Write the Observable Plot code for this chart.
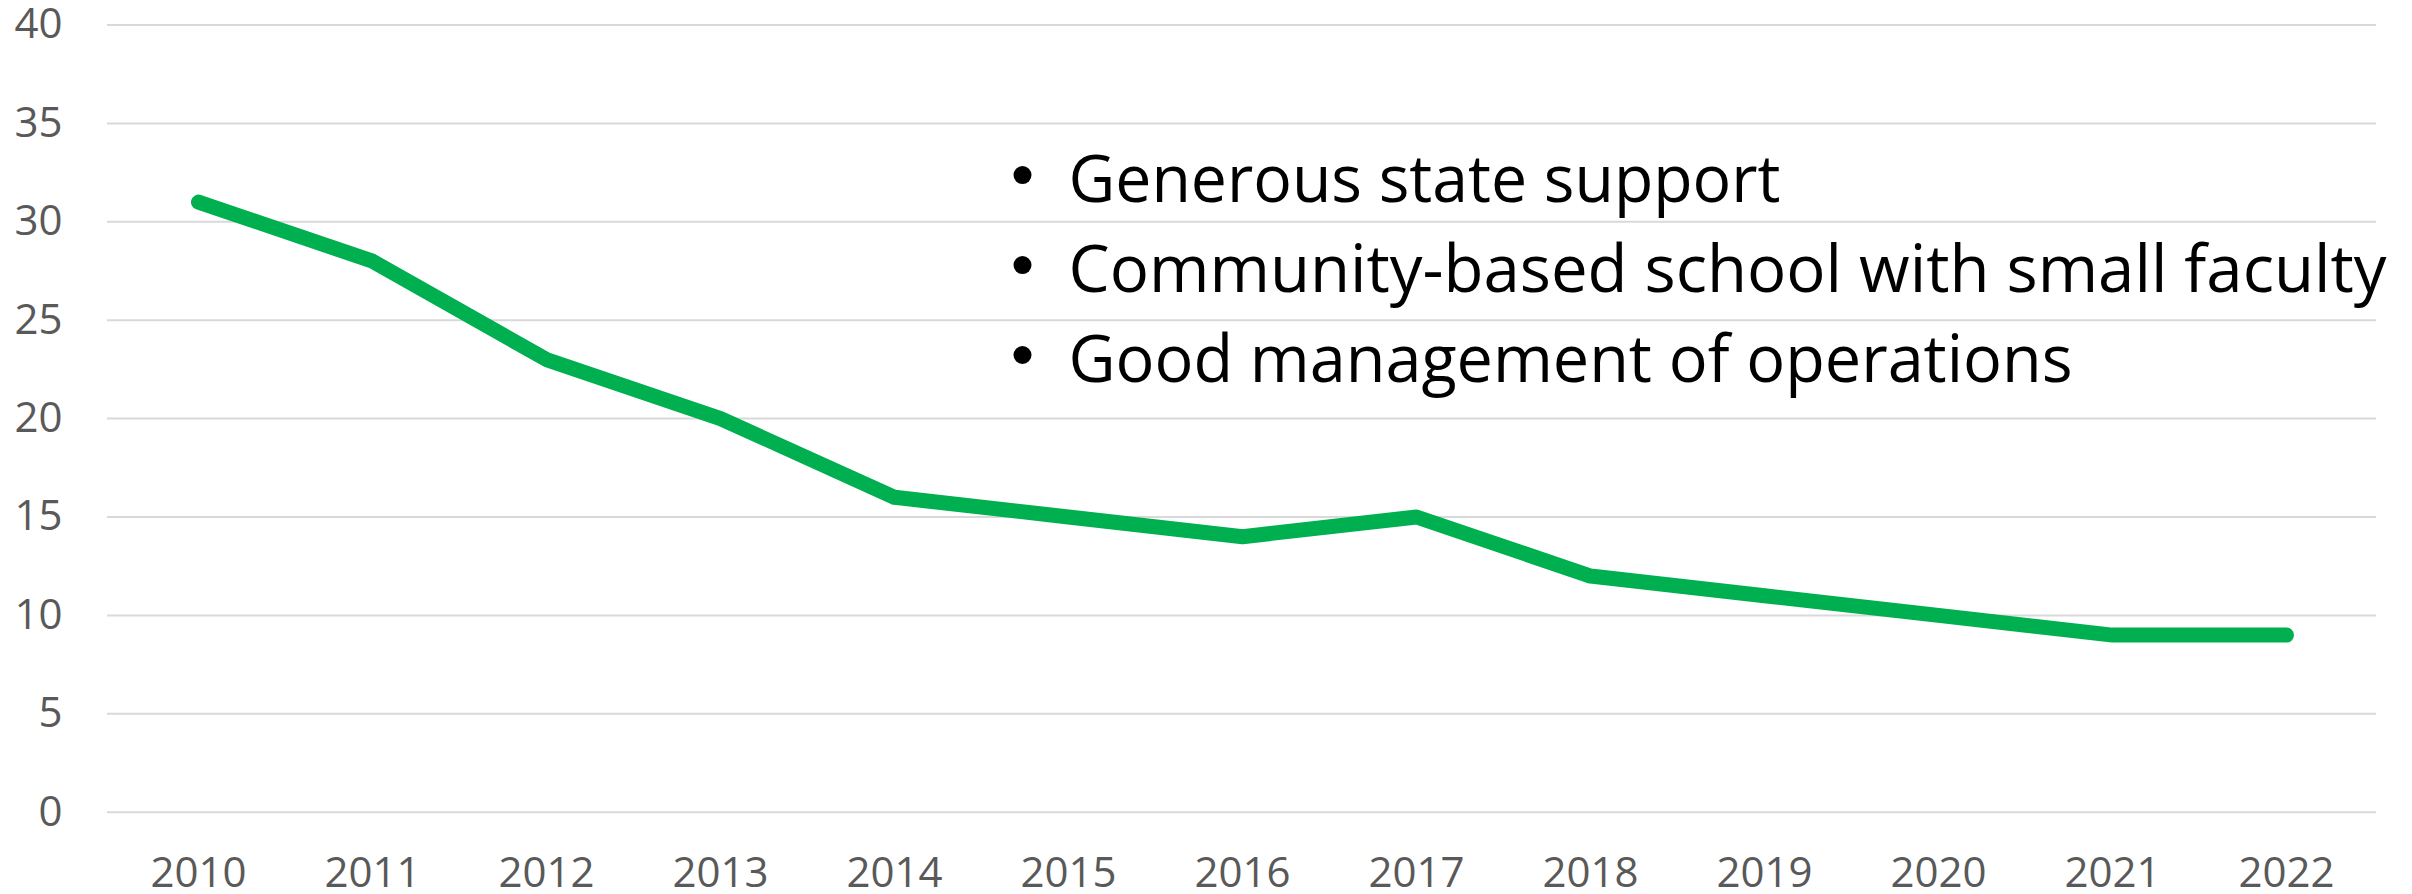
<!DOCTYPE html>
<html>
<head>
<meta charset="utf-8">
<script src="https://cdn.jsdelivr.net/npm/d3@7"></script>
<script src="https://cdn.jsdelivr.net/npm/@observablehq/plot@0.6"></script>
<style>
  html, body { margin: 0; padding: 0; background: #fff; }
</style>
</head>
<body>
<div id="chart"></div>
<script>
const years = ["2010","2011","2012","2013","2014","2015","2016","2017","2018","2019","2020","2021","2022"];
const values = [31, 28, 23, 20, 16, 15, 14, 15, 12, 11, 10, 9, 9];
const yTicks = [0, 5, 10, 15, 20, 25, 30, 35, 40];
const notes = ["Generous state support", "Community-based school with small faculty", "Good management of operations"];
const noteY = [31, 26.43, 21.86];
const noteAnchor = "2015";

const data = years.map((y, i) => ({year: y, value: values[i]}));

const chart = Plot.plot({
  width: 2412,
  height: 894,
  marginLeft: 107,
  marginRight: 36,
  marginTop: 24.5,
  marginBottom: 82.3,
  style: {fontFamily: "'Open Sans', 'Noto Sans', sans-serif", fontSize: "42px", color: "#595959", background: "#fff"},
  x: {type: "point", domain: years, padding: 0.5},
  y: {domain: [0, 40]},
  marks: [
    Plot.ruleY(yTicks, {stroke: "#d9d9d9", strokeWidth: 2}),
    Plot.axisX({tickSize: 0, tickPadding: 45, label: null}),
    Plot.axisY(yTicks, {tickSize: 0, tickPadding: 45, label: null}),
    Plot.line(data, {x: "year", y: "value", stroke: "#00B050", strokeWidth: 15, strokeLinecap: "round", strokeLinejoin: "round"}),
    Plot.dot(notes, {x: () => noteAnchor, y: (d, i) => noteY[i], r: 9, fill: "black", stroke: null, dx: -46, dy: -27}),
    Plot.text(notes, {x: () => noteAnchor, y: (d, i) => noteY[i], text: d => d, textAnchor: "start", lineAnchor: "bottom", dx: 0, fontSize: 65, fill: "black"})
  ]
});

const lens = [712, 1318, 1004];
d3.select(chart).selectAll("text").each(function() {
  const idx = notes.indexOf(this.textContent);
  if (idx >= 0) {
    this.setAttribute("textLength", lens[idx]);
    this.setAttribute("lengthAdjust", "spacingAndGlyphs");
  }
});

document.getElementById("chart").appendChild(chart);
</script>
</body>
</html>
